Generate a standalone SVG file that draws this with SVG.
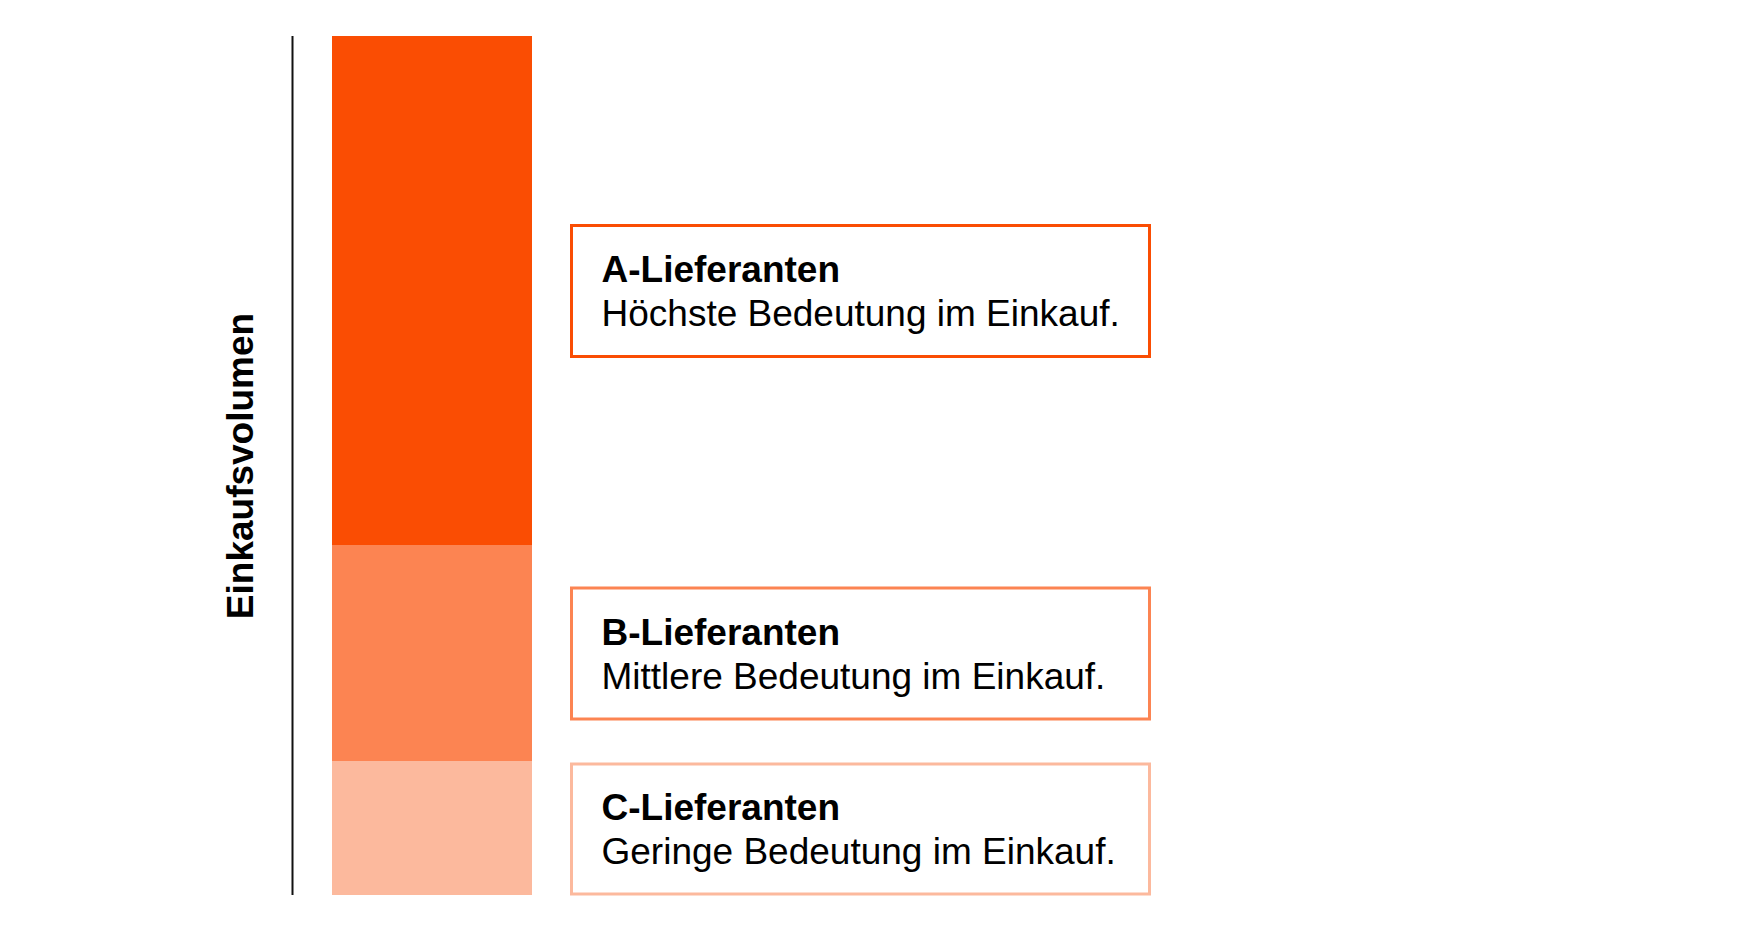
<svg xmlns="http://www.w3.org/2000/svg" width="1750" height="932" viewBox="0 0 1750 932">
<style>
.t{font-family:"Liberation Sans",Arial,sans-serif;font-size:37px;fill:#000}
.b{font-weight:bold}
.box{fill:#fff;stroke-width:3}
</style>
<rect width="1750" height="932" fill="#fff"/>
<g id="axis">
<line x1="292.5" y1="36" x2="292.5" y2="895" stroke="#111" stroke-width="2"/>
<text class="t b" transform="translate(252.5,466) rotate(-90)" text-anchor="middle">Einkaufsvolumen</text>
</g>
<g id="bar">
<rect x="332" y="36" width="200" height="509" fill="#FA4D03"/>
<rect x="332" y="545" width="200" height="216" fill="#FC8452"/>
<rect x="332" y="761" width="200" height="134" fill="#FCB99D"/>
</g>
<g id="connectors"></g>
<g id="nodeA">
<rect class="box" x="571.5" y="225.5" width="578" height="131" stroke="#FA4D03"/>
<text class="t b" x="601.5" y="282">A-Lieferanten</text>
<text class="t" x="601.5" y="326">Höchste Bedeutung im Einkauf.</text>
</g>
<g id="nodeB">
<rect class="box" x="571.5" y="588" width="578" height="131" stroke="#FC8452"/>
<text class="t b" x="601.5" y="645">B-Lieferanten</text>
<text class="t" x="601.5" y="689">Mittlere Bedeutung im Einkauf.</text>
</g>
<g id="nodeC">
<rect class="box" x="571.5" y="764" width="578" height="130" stroke="#FCB99D"/>
<text class="t b" x="601.5" y="820">C-Lieferanten</text>
<text class="t" x="601.5" y="864">Geringe Bedeutung im Einkauf.</text>
</g>
</svg>
